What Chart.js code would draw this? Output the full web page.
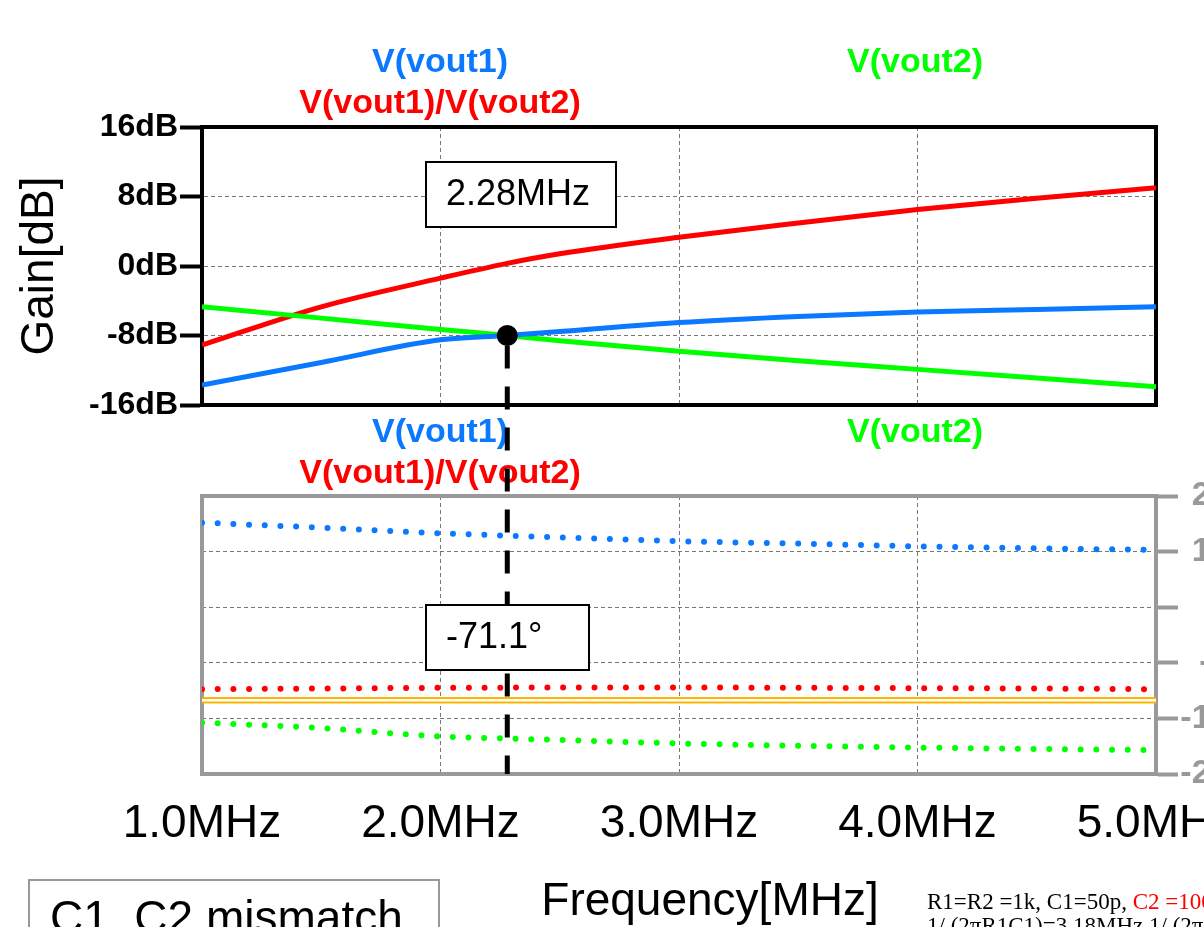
<!DOCTYPE html>
<html>
<head>
<meta charset="utf-8">
<script src="https://cdn.jsdelivr.net/npm/chart.js@4.4.1/dist/chart.umd.min.js"></script>
<style>
html, body { margin:0; padding:0; background:#fff; }
#wrap { position:relative; width:1204px; height:927px; overflow:hidden; background:#fff; }
canvas { position:absolute; left:0; top:0; }
#note { position:absolute; left:28px; top:879px; width:412px; height:90px; border:2px solid #999; box-sizing:border-box; }
#noteText { position:absolute; left:50px; top:894px; font:46px "Liberation Sans", Arial, sans-serif; line-height:46px; white-space:nowrap; color:#000; }
#params { position:absolute; left:927px; top:890px; font:23px "Liberation Serif", "Times New Roman", serif; line-height:24px; white-space:nowrap; color:#000; }
</style>
</head>
<body>
<div id="wrap">
  <canvas id="gain" width="1204" height="927"></canvas>
  <canvas id="phase" width="1300" height="927"></canvas>
  <div id="note"></div>
  <div id="noteText">C1, C2 mismatch</div>
  <div id="params">R1=R2 =1k, C1=50p, <span style="color:#f00">C2 =100p</span><br>1/ (2πR1C1)=3.18MHz 1/ (2πR2C2)=1.59MHz</div>
</div>
<script>
//----------------------------data---------------------------------------------
var freq = [1.0, 1.5, 2.0, 2.28, 2.5, 3.0, 3.5, 4.0, 4.5, 5.0]; // MHz

// gain [dB]
var gainVout1 = [-13.7, -11.1, -8.5, -8.0, -7.55, -6.5, -5.8, -5.3, -5.0, -4.7];
var gainVout2 = [-4.7, -6.0, -7.3, -8.0, -8.6, -9.8, -10.9, -11.9, -12.9, -13.9];
var gainRatio = [-9.1, -4.7, -1.4, 0.3, 1.4, 3.3, 4.95, 6.5, 7.8, 9.0];

// phase [deg]
var phaseVout1 = [161.6, 154.4, 146.3, 143.0, 140.6, 135.0, 131.5, 127.5, 124.8, 122.3];
var phaseVout2 = [-126.0, -134.0, -146.0, -149.0, -151.0, -156.0, -159.5, -162.0, -164.0, -165.5];
var phaseRatio = [-78.0, -77.0, -76.0, -75.7, -75.5, -75.5, -76.0, -76.5, -77.0, -78.0];
var refFreq = [1.0, 5.0];
var refPhase = [-94.0, -94.0];

var freqTicks = [1, 2, 3, 4, 5];
var gainTicks = [16, 8, 0, -8, -16];
var phaseTicks = [200, 120, 40, -40, -120, -200];

var traceNames = ["V(vout1)", "V(vout2)", "V(vout1)/V(vout2)"];
var traceColors = ["#0a78ff", "#00ff00", "#ff0000"];

var markerFreq = 2.28;
var markerGain = -8.0;
var markerPhase = -71.1;

//----------------------------helpers------------------------------------------
var FONT = '"Liberation Sans", Arial, sans-serif';
Chart.defaults.font.family = FONT;

function pts(xs, ys) {
  return xs.map(function (x, i) { return {x: x, y: ys[i]}; });
}
function fixTicks(list) {
  return function (scale) { scale.ticks = list.map(function (v) { return {value: v}; }); };
}

// box around the plot area
var framePlugin = {
  id: 'frame',
  beforeDatasetsDraw: function (chart, args, opts) {
    var a = chart.chartArea, ctx = chart.ctx;
    ctx.save();
    ctx.strokeStyle = opts.color;
    ctx.lineWidth = opts.width;
    ctx.strokeRect(a.left, a.top, a.right - a.left, a.bottom - a.top);
    ctx.restore();
  }
};

// trace names written above each plot
var namesPlugin = {
  id: 'names',
  afterDatasetsDraw: function (chart, args, opts) {
    var ctx = chart.ctx;
    ctx.save();
    ctx.font = 'bold 34px ' + FONT;
    ctx.textAlign = 'center';
    ctx.textBaseline = 'alphabetic';
    opts.items.forEach(function (it) {
      var ds = chart.data.datasets[it[0]];
      ctx.fillStyle = ds.nameColor;
      ctx.fillText(ds.label, it[1], it[2]);
    });
    ctx.restore();
  }
};

//----------------------------gain chart---------------------------------------
var gainLine = function (i, ys) {
  return {
    label: traceNames[i], nameColor: traceColors[i], data: pts(freq, ys),
    borderColor: traceColors[i], borderWidth: 5, pointRadius: 0,
    cubicInterpolationMode: 'monotone', fill: false
  };
};

var chartA = new Chart(document.getElementById('gain'), {
  type: 'line',
  data: { datasets: [gainLine(0, gainVout1), gainLine(1, gainVout2), gainLine(2, gainRatio)] },
  options: {
    responsive: false,
    animation: false,
    layout: { padding: { top: 127, right: 48, left: 0, bottom: 0 } },
    plugins: {
      legend: { display: false },
      tooltip: { enabled: false },
      frame: { color: '#000', width: 4 },
      names: { items: [[0, 440, 72], [1, 915, 72], [2, 440, 113]] }
    },
    scales: {
      x: {
        type: 'linear', min: 1, max: 5,
        afterBuildTicks: fixTicks(freqTicks),
        ticks: { display: false },
        grid: { color: '#777', lineWidth: 1, drawTicks: false },
        border: { color: '#000', width: 4, dash: [4, 3] },
        afterFit: function (s) { s.height = 522; }
      },
      y: {
        min: -16, max: 16,
        afterBuildTicks: fixTicks(gainTicks),
        ticks: {
          callback: function (v) { return v + 'dB'; },
          font: { size: 32, weight: 'bold' }, color: '#000', padding: 2
        },
        grid: { color: '#777', lineWidth: 1, tickColor: '#000', tickWidth: 4, tickLength: 22 },
        border: { color: '#000', width: 4, dash: [4, 3] },
        title: { display: true, text: 'Gain[dB]', color: '#000', font: { size: 46 }, padding: { top: 13, bottom: 0 } },
        afterFit: function (s) { s.width = 202; }
      }
    }
  },
  plugins: [framePlugin, namesPlugin]
});

//----------------------------phase chart--------------------------------------
var phaseDots = function (i, ys) {
  return {
    label: traceNames[i], nameColor: traceColors[i], data: pts(freq, ys),
    borderColor: traceColors[i], borderWidth: 6, pointRadius: 0,
    borderDash: [0, 15.7], borderCapStyle: 'round',
    cubicInterpolationMode: 'monotone', fill: false
  };
};

// marker: dot on the crossing, dashed cursor, value boxes, axis title
var markerPlugin = {
  id: 'marker',
  afterDraw: function (chart) {
    var ctx = chart.ctx;
    var x = chart.scales.x.getPixelForValue(markerFreq);
    var yDot = chartA.scales.y.getPixelForValue(markerGain);
    var yEnd = chart.chartArea.bottom;
    ctx.save();
    ctx.strokeStyle = '#000';
    ctx.lineWidth = 5;
    ctx.setLineDash([23, 18]);
    ctx.beginPath();
    ctx.moveTo(x, yDot + 10);
    ctx.lineTo(x, yEnd);
    ctx.stroke();
    ctx.setLineDash([]);
    ctx.fillStyle = '#000';
    ctx.beginPath();
    ctx.arc(x, yDot, 10.5, 0, Math.PI * 2);
    ctx.fill();

    function box(l, t, w, h, txt) {
      ctx.fillStyle = '#fff';
      ctx.fillRect(l, t, w, h);
      ctx.lineWidth = 2;
      ctx.strokeStyle = '#000';
      ctx.strokeRect(l, t, w, h);
      ctx.fillStyle = '#000';
      ctx.font = '36px ' + FONT;
      ctx.textAlign = 'left';
      ctx.textBaseline = 'middle';
      ctx.fillText(txt, l + 20, t + h / 2 + 1);
    }
    box(426, 162, 190, 65, markerFreq.toFixed(2) + 'MHz');
    box(426, 605, 163, 65, markerPhase.toFixed(1) + '°');

    ctx.fillStyle = '#000';
    ctx.font = '46px ' + FONT;
    ctx.textAlign = 'center';
    ctx.textBaseline = 'alphabetic';
    ctx.fillText('Frequency[MHz]', 710, 915);
    ctx.restore();
  }
};

var chartB = new Chart(document.getElementById('phase'), {
  type: 'line',
  data: {
    datasets: [
      phaseDots(0, phaseVout1), phaseDots(1, phaseVout2), phaseDots(2, phaseRatio),
      // double reference line: white core over orange (lower index is drawn on top)
      { label: 'ref', data: pts(refFreq, refPhase), borderColor: '#ffffff', borderWidth: 2.5, pointRadius: 0 },
      { label: 'ref', data: pts(refFreq, refPhase), borderColor: '#ffb400', borderWidth: 6.5, pointRadius: 0 }
    ]
  },
  options: {
    responsive: false,
    animation: false,
    layout: { padding: { top: 496, left: 202, right: 38, bottom: 0 } },
    plugins: {
      legend: { display: false },
      tooltip: { enabled: false },
      frame: { color: '#999', width: 4 },
      names: { items: [[0, 440, 442], [1, 915, 442], [2, 440, 483]] }
    },
    scales: {
      x: {
        type: 'linear', min: 1, max: 5,
        afterBuildTicks: fixTicks(freqTicks),
        ticks: {
          callback: function (v) { return v.toFixed(1) + 'MHz'; },
          font: { size: 46 }, color: '#000', padding: 23, maxRotation: 0, autoSkip: false
        },
        grid: { color: '#777', lineWidth: 1, drawTicks: false },
        border: { color: '#999', width: 4, dash: [4, 3] },
        afterFit: function (s) { s.height = 153; }
      },
      y: {
        position: 'right', min: -200, max: 200,
        afterBuildTicks: fixTicks(phaseTicks),
        ticks: {
          callback: function (v) { return v + '°'; },
          font: { size: 34, weight: 'bold' }, color: '#999', padding: 3, crossAlign: 'far'
        },
        grid: { color: '#777', lineWidth: 1, tickColor: '#999', tickWidth: 4, tickLength: 22 },
        border: { color: '#999', width: 4, dash: [4, 3] },
        afterFit: function (s) { s.width = 106; }
      }
    }
  },
  plugins: [framePlugin, namesPlugin, markerPlugin]
});
</script>
</body>
</html>
